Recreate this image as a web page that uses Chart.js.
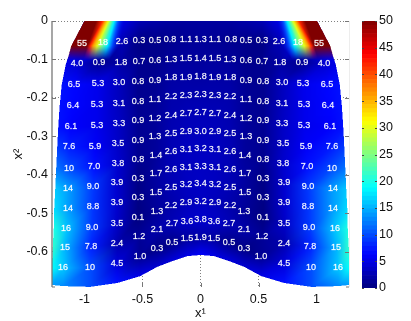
<!DOCTYPE html>
<html>
<head>
<meta charset="utf-8">
<style>
  body { margin: 0; background: #fff; }
  #wrap { position: relative; width: 411px; height: 321px; overflow: hidden; filter: blur(0.3px); }
  #fieldChart { position: absolute; left: 0; top: 0; }
  #barChart { position: absolute; left: 352px; top: 0; }
</style>
<script src="https://cdn.jsdelivr.net/npm/chart.js@4/dist/chart.umd.min.js"></script>
</head>
<body>
<div id="wrap">
  <canvas id="fieldChart" width="411" height="321"></canvas>
  <canvas id="barChart" width="59" height="321"></canvas>
</div>
<script>
// ==================================================
// 1. DATA
// ==================================================
const xTicks = [-1, -0.5, 0, 0.5, 1];
const yTicks = [0, -0.1, -0.2, -0.3, -0.4, -0.5, -0.6];
const barTicks = [0, 5, 10, 15, 20, 25, 30, 35, 40, 45, 50];

// printed numbers, top row first
const cellLabels = [
  ['55','18','2.6','0.3','0.5','0.8','1.1','1.3','1.1','0.8','0.5','0.3','2.6','18','55'],
  ['4.0','0.9','1.8','0.7','0.6','1.3','1.5','1.4','1.5','1.3','0.6','0.7','1.8','0.9','4.0'],
  ['6.5','5.3','3.0','0.8','0.9','1.8','1.9','1.8','1.9','1.8','0.9','0.8','3.0','5.3','6.5'],
  ['6.4','5.3','3.1','0.8','1.1','2.2','2.3','2.3','2.3','2.2','1.1','0.8','3.1','5.3','6.4'],
  ['6.1','5.3','3.3','0.9','1.2','2.4','2.7','2.7','2.7','2.4','1.2','0.9','3.3','5.3','6.1'],
  ['7.6','5.9','3.5','0.9','1.3','2.5','2.9','3.0','2.9','2.5','1.3','0.9','3.5','5.9','7.6'],
  ['10','7.0','3.8','0.8','1.4','2.6','3.1','3.2','3.1','2.6','1.4','0.8','3.8','7.0','10'],
  ['14','9.0','3.9','0.3','1.7','2.6','3.1','3.3','3.1','2.6','1.7','0.3','3.9','9.0','14'],
  ['14','8.8','3.9','0.3','1.5','2.5','3.2','3.4','3.2','2.5','1.5','0.3','3.9','8.8','14'],
  ['16','9.0','3.5','0.1','1.3','2.2','2.9','3.2','2.9','2.2','1.3','0.1','3.5','9.0','16'],
  ['15','7.8','2.4','1.2','2.1','2.7','3.6','3.8','3.6','2.7','2.1','1.2','2.4','7.8','15'],
  ['16','10','4.5','1.0','0.3','0.5','1.5','1.9','1.5','0.5','0.3','1.0','4.5','10','16']
];

// mesh of the left half, outer edge to centre line (the field is symmetric)
const meshX = [
  [-1.004,-0.953,-0.823,-0.677,-0.530,-0.392,-0.263,-0.125,0],
  [-1.108,-1.022,-0.841,-0.677,-0.530,-0.392,-0.263,-0.125,0],
  [-1.164,-1.065,-0.875,-0.685,-0.530,-0.392,-0.254,-0.125,0],
  [-1.198,-1.091,-0.884,-0.703,-0.539,-0.392,-0.254,-0.125,0],
  [-1.216,-1.099,-0.892,-0.703,-0.539,-0.392,-0.254,-0.125,0],
  [-1.228,-1.116,-0.892,-0.703,-0.539,-0.392,-0.254,-0.125,0],
  [-1.237,-1.134,-0.909,-0.711,-0.539,-0.392,-0.254,-0.125,0],
  [-1.246,-1.134,-0.918,-0.711,-0.539,-0.384,-0.254,-0.125,0],
  [-1.254,-1.142,-0.927,-0.720,-0.539,-0.384,-0.254,-0.125,0],
  [-1.263,-1.142,-0.927,-0.720,-0.539,-0.384,-0.254,-0.125,0],
  [-1.267,-1.159,-0.935,-0.720,-0.539,-0.375,-0.254,-0.125,0],
  [-1.276,-1.168,-0.944,-0.720,-0.530,-0.375,-0.246,-0.116,0],
  [-1.284,-1.185,-0.953,-0.720,-0.522,-0.375,-0.246,-0.116,0],
  [-1.280,-1.185,-0.953,-0.720,-0.522,-0.375,-0.246,-0.116,0]
];
const meshY = [
  [0,0,0,0,0,0,0,0,0],
  [-0.061,-0.059,-0.056,-0.053,-0.051,-0.051,-0.048,-0.048,-0.048],
  [-0.113,-0.111,-0.108,-0.108,-0.105,-0.103,-0.100,-0.098,-0.098],
  [-0.165,-0.165,-0.163,-0.160,-0.158,-0.155,-0.147,-0.147,-0.145],
  [-0.220,-0.220,-0.217,-0.215,-0.210,-0.204,-0.197,-0.194,-0.191],
  [-0.275,-0.275,-0.272,-0.267,-0.259,-0.254,-0.246,-0.241,-0.238],
  [-0.327,-0.327,-0.327,-0.319,-0.311,-0.301,-0.293,-0.288,-0.288],
  [-0.384,-0.384,-0.379,-0.371,-0.361,-0.350,-0.340,-0.335,-0.332],
  [-0.436,-0.436,-0.431,-0.421,-0.410,-0.397,-0.387,-0.382,-0.379],
  [-0.488,-0.488,-0.483,-0.473,-0.460,-0.447,-0.434,-0.426,-0.423],
  [-0.540,-0.540,-0.538,-0.527,-0.512,-0.496,-0.480,-0.473,-0.470],
  [-0.590,-0.590,-0.587,-0.579,-0.561,-0.543,-0.527,-0.522,-0.517],
  [-0.642,-0.642,-0.642,-0.631,-0.613,-0.592,-0.577,-0.566,-0.564],
  [-0.686,-0.689,-0.691,-0.681,-0.663,-0.639,-0.624,-0.611,-0.608]
];
const meshV = [
  [6,6,6,5,2.5,2,1.6,1.5,1.5],
  [6,5,5,2.6,0.3,0.5,0.8,1.1,1.3],
  [5,4.0,0.9,1.8,0.7,0.6,1.3,1.5,1.4],
  [7,6.5,5.3,3.0,0.8,0.9,1.8,1.9,1.8],
  [7,6.4,5.3,3.1,0.8,1.1,2.2,2.3,2.3],
  [7,6.1,5.3,3.3,0.9,1.2,2.4,2.7,2.7],
  [9,7.6,5.9,3.5,0.9,1.3,2.5,2.9,3.0],
  [12,10,7.0,3.8,0.8,1.4,2.6,3.1,3.2],
  [16,14,9.0,3.9,0.3,1.7,2.6,3.1,3.3],
  [17,14,8.8,3.9,0.3,1.5,2.5,3.2,3.4],
  [20,16,9.0,3.5,0.1,1.3,2.2,2.9,3.2],
  [21,15,7.8,2.4,1.2,2.1,2.7,3.6,3.8],
  [19,16,10,4.5,1.0,0.3,0.5,1.5,1.9],
  [14,13,10,7,5,4,4.5,5,6]
];

// hot corner at the top, laid over the mesh on both sides
const hotX = [
  [-1.004,-0.901,-0.849,-0.823,-0.797,-0.772,-0.746,-0.711,-0.651],
  [-1.116,-0.978,-0.953,-0.927,-0.892,-0.849,-0.806,-0.763,-0.694],
  [-1.151,-1.013,-0.978,-0.953,-0.918,-0.875,-0.832,-0.789,-0.711]
];
const hotY = [0, -0.064, -0.100];
const hotV = [55, 55, 42, 36, 30, 24, 18, 10, 4];

// ==================================================
// 2. COLOUR HELPERS
// ==================================================
function jet(v) {
    const t = Math.min(1, Math.max(0, v / 50));
    const c = k => Math.round(255 * Math.min(1, Math.max(0, k)));
    return [
        c(Math.min(4 * t - 1.5, -4 * t + 4.5)),
        c(Math.min(4 * t - 0.5, -4 * t + 3.5)),
        c(Math.min(4 * t + 0.5, -4 * t + 2.5))
    ];
}

// fill a structured mesh into an offscreen canvas, colours blended in RGB
function paintMesh(ctx, pts) {
    const w = ctx.canvas.width, h = ctx.canvas.height;
    const img = ctx.getImageData(0, 0, w, h);
    const tri = (a, b, c) => {
        const d = (b.x - a.x) * (c.y - a.y) - (c.x - a.x) * (b.y - a.y);
        if (d === 0) return;
        const x0 = Math.max(0, Math.floor(Math.min(a.x, b.x, c.x)));
        const x1 = Math.min(w - 1, Math.ceil(Math.max(a.x, b.x, c.x)));
        const y0 = Math.max(0, Math.floor(Math.min(a.y, b.y, c.y)));
        const y1 = Math.min(h - 1, Math.ceil(Math.max(a.y, b.y, c.y)));
        for (let py = y0; py <= y1; py++) {
            for (let px = x0; px <= x1; px++) {
                const u = ((b.x - px) * (c.y - py) - (c.x - px) * (b.y - py)) / d;
                const v = ((c.x - px) * (a.y - py) - (a.x - px) * (c.y - py)) / d;
                const s = 1 - u - v;
                if (u < -0.001 || v < -0.001 || s < -0.001) continue;
                const i = (py * w + px) * 4;
                for (let k = 0; k < 4; k++) img.data[i + k] = u * a.c[k] + v * b.c[k] + s * c.c[k];
            }
        }
    };
    for (let r = 0; r < pts.length - 1; r++) {
        for (let q = 0; q < pts[r].length - 1; q++) {
            tri(pts[r][q], pts[r][q + 1], pts[r + 1][q]);
            tri(pts[r][q + 1], pts[r + 1][q + 1], pts[r + 1][q]);
        }
    }
    ctx.putImageData(img, 0, 0);
}

const mirrorX = row => row.concat(row.slice(0, -1).reverse().map(v => -v));
const mirrorV = row => row.concat(row.slice(0, -1).reverse());

// ==================================================
// 3. PLUGINS
// ==================================================
const SS = 2; // offscreen supersampling

const fieldPlugin = {
    id: 'fieldPlugin',
    beforeDraw(chart) {
        const { ctx } = chart;
        ctx.save();
        ctx.fillStyle = '#ffffff';
        ctx.fillRect(0, 0, chart.width, chart.height);
        ctx.restore();
    },
    beforeDatasetsDraw(chart) {
        const { ctx, scales: { x, y }, width, height } = chart;
        const off = document.createElement('canvas');
        off.width = width * SS;
        off.height = height * SS;
        const octx = off.getContext('2d', { willReadFrequently: true });

        const pts = meshX.map((row, r) => {
            const xs = mirrorX(row), ys = mirrorV(meshY[r]), vs = mirrorV(meshV[r]);
            return xs.map((vx, i) => ({
                x: x.getPixelForValue(vx) * SS,
                y: y.getPixelForValue(ys[i]) * SS,
                c: jet(vs[i]).concat(255)
            }));
        });
        paintMesh(octx, pts);
        ctx.drawImage(off, 0, 0, width, height);

        [1, -1].forEach(side => {
            const hot = document.createElement('canvas');
            hot.width = off.width;
            hot.height = off.height;
            const hctx = hot.getContext('2d', { willReadFrequently: true });
            const hp = hotX.map((row, r) => row.map((vx, i) => ({
                x: x.getPixelForValue(vx * side) * SS,
                y: y.getPixelForValue(hotY[r]) * SS,
                c: jet(hotV[i]).concat(r === hotX.length - 1 || i === row.length - 1 ? 0 : 255)
            })));
            paintMesh(hctx, hp);
            ctx.drawImage(hot, 0, 0, width, height);
        });
    },
    afterDatasetsDraw(chart) {
        const { ctx } = chart;
        const meta = chart.getDatasetMeta(0);
        ctx.save();
        ctx.font = '9px "Liberation Sans", Arial, sans-serif';
        ctx.fillStyle = '#ffffff';
        ctx.strokeStyle = 'rgba(255,255,255,0.45)';
        ctx.lineWidth = 0.4;
        ctx.textAlign = 'center';
        ctx.textBaseline = 'middle';
        meta.data.forEach((pt, i) => {
            const label = chart.data.datasets[0].data[i].label;
            ctx.strokeText(label, pt.x, pt.y);
            ctx.fillText(label, pt.x, pt.y);
        });
        ctx.restore();
    },
    afterDraw(chart) {
        const { ctx, chartArea: a, scales: { x, y } } = chart;
        ctx.save();
        ctx.strokeStyle = '#ededed';
        ctx.lineWidth = 1;
        ctx.beginPath();
        ctx.moveTo(a.right + 0.5, a.top);
        ctx.lineTo(a.right + 0.5, a.bottom);
        ctx.stroke();
        ctx.strokeStyle = '#777777';
        ctx.lineWidth = 1.3;
        ctx.beginPath();
        ctx.moveTo(a.left, a.top);
        ctx.lineTo(a.left, a.bottom);
        ctx.stroke();
        ctx.lineWidth = 1;
        ctx.beginPath();
        yTicks.forEach(v => {
            const py = Math.round(y.getPixelForValue(v)) + 0.5;
            if (v > -0.35) {
                ctx.moveTo(a.left, py); ctx.lineTo(a.left + 4, py);
            }
            ctx.moveTo(a.right - 4, py); ctx.lineTo(a.right, py);
        });
        xTicks.forEach(v => {
            if (Math.abs(v) === 1) return;
            const px = Math.round(x.getPixelForValue(v)) + 0.5;
            ctx.moveTo(px, a.bottom); ctx.lineTo(px, a.bottom - 4);
        });
        ctx.moveTo(a.left, a.bottom); ctx.lineTo(a.left + 3, a.bottom);
        ctx.moveTo(a.right - 3, a.bottom); ctx.lineTo(a.right, a.bottom);
        ctx.stroke();
        ctx.restore();
    }
};

const barTickPlugin = {
    id: 'barTickPlugin',
    afterDraw(chart) {
        const { ctx, chartArea: a, scales: { y } } = chart;
        ctx.save();
        ctx.strokeStyle = '#444444';
        ctx.lineWidth = 1;
        ctx.beginPath();
        barTicks.forEach(v => {
            const py = Math.round(y.getPixelForValue(v)) + 0.5;
            ctx.moveTo(a.left, py); ctx.lineTo(a.left + 2, py);
            ctx.moveTo(a.right - 2, py); ctx.lineTo(a.right, py);
        });
        ctx.stroke();
        ctx.restore();
    }
};

// ==================================================
// 4. CHARTS
// ==================================================
const labelPoints = [];
cellLabels.forEach((row, r) => {
    const xs = mirrorX(meshX[r + 1]), ys = mirrorV(meshY[r + 1]);
    row.forEach((label, i) => labelPoints.push({ x: xs[i + 1], y: ys[i + 1], label: label }));
});

const axisFont = { family: '"Liberation Sans", Arial, sans-serif', size: 12.5 };
const titleFont = { family: '"Liberation Sans", Arial, sans-serif', size: 13 };

new Chart(document.getElementById('fieldChart'), {
    type: 'scatter',
    data: { datasets: [{ data: labelPoints, pointRadius: 0, showLine: false }] },
    options: {
        responsive: false,
        animation: false,
        layout: { padding: { left: 0, right: 62, top: 21, bottom: 0 } },
        plugins: { legend: { display: false }, tooltip: { enabled: false } },
        scales: {
            x: {
                type: 'linear',
                min: -1.28,
                max: 1.28,
                afterBuildTicks: axis => { axis.ticks = xTicks.map(value => ({ value })); },
                afterFit: axis => { axis.height = 34; },
                ticks: {
                    color: '#111111', font: axisFont, padding: 5, maxRotation: 0,
                    autoSkip: false, callback: v => String(v)
                },
                grid: { color: '#808080', lineWidth: 1, drawTicks: false },
                border: { display: false, dash: [1, 2] },
                title: { display: true, text: 'x\u00b9', color: '#111111', font: titleFont, padding: { top: 0, bottom: 0 } }
            },
            y: {
                type: 'linear',
                min: -0.692,
                max: 0,
                afterBuildTicks: axis => { axis.ticks = yTicks.map(value => ({ value })); },
                afterFit: axis => { axis.width = 52; },
                ticks: {
                    color: '#111111', font: axisFont, padding: 4,
                    autoSkip: false, callback: v => String(v)
                },
                grid: { color: '#808080', lineWidth: 1, drawTicks: false },
                border: { display: false, dash: [1, 2] },
                title: { display: true, text: 'x\u00b2', color: '#111111', font: titleFont, padding: { top: 11, bottom: 0 } }
            }
        }
    },
    plugins: [fieldPlugin]
});

// colour bar: 64 stacked bands of the same colour map
const bandCount = 64;
const bandSets = [];
for (let i = 0; i < bandCount; i++) {
    const c = jet((i + 0.5) * 50 / bandCount);
    bandSets.push({
        data: [50 / bandCount],
        backgroundColor: `rgb(${c[0]},${c[1]},${c[2]})`,
        barPercentage: 1,
        categoryPercentage: 1,
        borderWidth: 0
    });
}

new Chart(document.getElementById('barChart'), {
    type: 'bar',
    data: { labels: [''], datasets: bandSets },
    options: {
        responsive: false,
        animation: false,
        layout: { padding: { left: 10, right: 0, top: 21, bottom: 33 } },
        plugins: { legend: { display: false }, tooltip: { enabled: false } },
        scales: {
            x: { stacked: true, display: false },
            y: {
                stacked: true,
                position: 'right',
                min: 0,
                max: 50,
                afterBuildTicks: axis => { axis.ticks = barTicks.map(value => ({ value })); },
                afterFit: axis => { axis.width = 34; },
                ticks: { color: '#111111', font: axisFont, padding: 2, autoSkip: false },
                grid: { display: false, drawTicks: false },
                border: { display: false }
            }
        }
    },
    plugins: [barTickPlugin]
});
</script>
</body>
</html>
